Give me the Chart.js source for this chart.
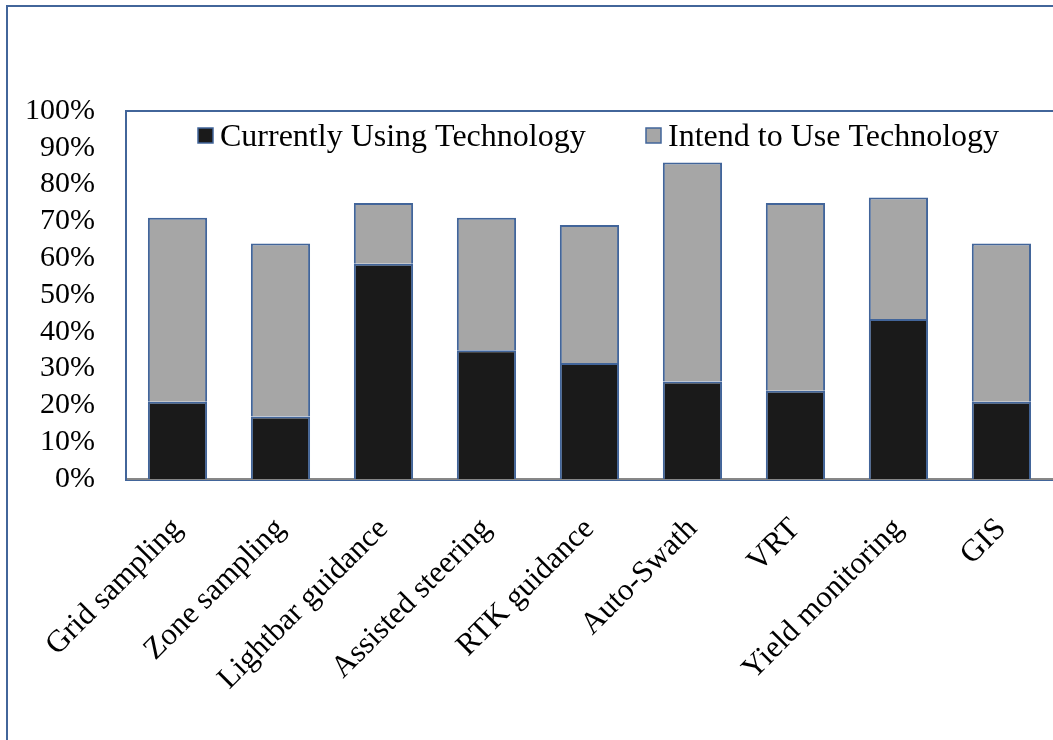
<!DOCTYPE html>
<html>
<head>
<meta charset="utf-8">
<script src="https://cdn.jsdelivr.net/npm/chart.js@4"></script>
<style>
  body { margin: 0; overflow: hidden; background: #fff; }
  #wrap { position: relative; width: 1060px; height: 740px; }
</style>
</head>
<body>
<div id="wrap"><canvas id="techChart"></canvas></div>
<script>
const categories = ['Grid sampling', 'Zone sampling', 'Lightbar guidance', 'Assisted steering',
    'RTK guidance', 'Auto-Swath', 'VRT', 'Yield monitoring', 'GIS'];
const currentlyUsing = [21, 17, 58.5, 35, 31.5, 26.5, 24, 43.5, 21];
const intendToUse = [50, 47, 16.5, 36, 37.5, 59.5, 51, 33, 43];
const yTicks = [0, 10, 20, 30, 40, 50, 60, 70, 80, 90, 100];

const frameBlue = '#42659a';
const serif = '"Liberation Serif", "Times New Roman", serif';

// outer frame + plot area box + legend drawn inside the plot area
const framePlugin = {
    id: 'frames',
    beforeDraw(chart) {
        const ctx = chart.ctx;
        const a = chart.chartArea;
        ctx.save();
        ctx.strokeStyle = frameBlue;
        ctx.lineWidth = 2;
        ctx.strokeRect(7, 6, 2000, 2000);
        ctx.strokeRect(a.left, a.top, a.right - a.left + 20, a.bottom - a.top + 1);
        ctx.restore();
    },
    afterDraw(chart) {
        const ctx = chart.ctx;
        const items = [{ x: 198, textX: 220 }, { x: 646, textX: 668 }];
        ctx.save();
        ctx.font = '32px ' + serif;
        ctx.textBaseline = 'middle';
        chart.data.datasets.forEach((ds, i) => {
            const it = items[i];
            ctx.fillStyle = ds.backgroundColor;
            ctx.fillRect(it.x, 128, 15, 15);
            ctx.strokeStyle = frameBlue;
            ctx.lineWidth = 1.5;
            ctx.strokeRect(it.x, 128, 15, 15);
            ctx.fillStyle = '#000';
            ctx.fillText(ds.label, it.textX, 138);
        });
        ctx.restore();
    }
};

new Chart(document.getElementById('techChart'), {
    type: 'bar',
    data: {
        labels: categories,
        datasets: [
            {
                label: 'Currently Using Technology',
                data: currentlyUsing,
                backgroundColor: '#1a1a1a',
                borderColor: frameBlue,
                borderWidth: 2,
                barPercentage: 0.575,
                categoryPercentage: 1,
            },
            {
                label: 'Intend to Use Technology',
                data: intendToUse,
                backgroundColor: '#a6a6a6',
                borderColor: frameBlue,
                borderWidth: 2,
                barPercentage: 0.575,
                categoryPercentage: 1,
            },
        ],
    },
    options: {
        responsive: true,
        maintainAspectRatio: false,
        animation: false,
        layout: { padding: { top: 111, right: 5, left: 0, bottom: 0 } },
        plugins: {
            legend: { display: false },
            tooltip: { enabled: false },
        },
        scales: {
            x: {
                stacked: true,
                grid: { display: false, drawTicks: false },
                border: { display: true, color: '#878787', width: 2 },
                ticks: {
                    color: '#000',
                    font: { family: serif, size: 31 },
                    minRotation: 45,
                    maxRotation: 45,
                    padding: 32,
                    autoSkip: false,
                },
                afterFit(scale) { scale.height = 261; },
            },
            y: {
                stacked: true,
                min: 0,
                max: 100,
                afterBuildTicks(scale) { scale.ticks = yTicks.map(v => ({ value: v })); },
                grid: { display: false, drawTicks: false },
                border: { display: true, color: frameBlue, width: 2 },
                ticks: {
                    color: '#000',
                    font: { family: serif, size: 30 },
                    padding: 31,
                    autoSkip: false,
                    callback: v => v + '%',
                },
                afterFit(scale) { scale.width = 126; },
            },
        },
    },
    plugins: [framePlugin],
});
</script>
</body>
</html>
